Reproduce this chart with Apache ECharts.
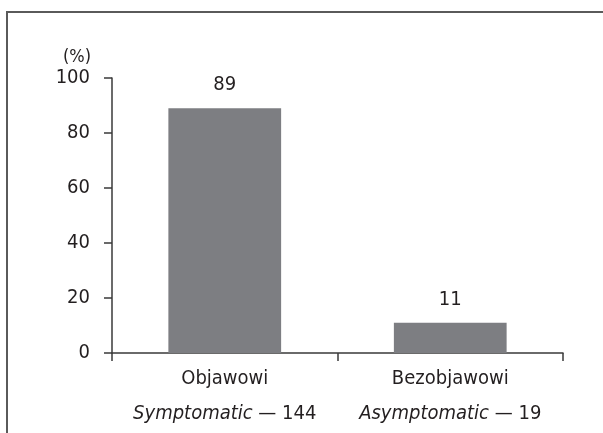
<!DOCTYPE html>
<html>
<head>
<meta charset="utf-8">
<script src="https://cdn.jsdelivr.net/npm/echarts@6/dist/echarts.min.js"></script>
<style>
html,body{margin:0;padding:0;background:#fff;}
#c{width:603px;height:433px;}
</style>
</head>
<body>
<div id="c"></div>
<script>
const categoriesPl = ['Objawowi', 'Bezobjawowi'];
const categoriesEn = ['Symptomatic', 'Asymptomatic'];
const counts = ['144', '19'];
const percentValues = [89, 11];
const yTicks = [0, 20, 40, 60, 80, 100];

const FONT = "'Liberation Sans Narrow', 'Arial Narrow', 'DejaVu Sans Condensed', sans-serif";
const TXT = '#231f20';
const AX = '#3a3a3a';
const FS = 20;

const chart = echarts.init(document.getElementById('c'), null, {renderer: 'canvas'});
chart.setOption({
  animation: false,
  backgroundColor: '#ffffff',
  grid: {left: 112, right: 40, top: 78, bottom: 80, containLabel: false},
  graphic: [{
    type: 'polyline',
    shape: {points: [[7, 433], [7, 12], [603, 12]]},
    style: {stroke: '#5a5a5a', lineWidth: 2, fill: null},
    silent: true
  }],
  xAxis: {
    type: 'category',
    data: categoriesPl.map((c, i) => i),
    axisLine: {lineStyle: {color: AX, width: 1.5}},
    axisTick: {show: true, length: 8, lineStyle: {color: AX, width: 1.5}},
    axisLabel: {
      margin: 8,
      interval: 0,
      formatter: (v, i) => '{n|' + categoriesPl[i] + '}\n{i|' + categoriesEn[i] + '}{n| — ' + counts[i] + '}',
      rich: {
        n: {fontFamily: FONT, fontSize: FS, lineHeight: 35, color: TXT},
        i: {fontFamily: FONT, fontSize: FS, lineHeight: 35, color: TXT, fontStyle: 'italic'}
      }
    }
  },
  yAxis: {
    type: 'value',
    min: yTicks[0],
    max: yTicks[yTicks.length - 1],
    interval: 20,
    name: '(%)',
    nameLocation: 'end',
    nameGap: 12,
    nameTextStyle: {fontFamily: FONT, fontSize: 18, color: TXT, align: 'center', padding: [0, 70, 0, 0]},
    axisLine: {show: true, lineStyle: {color: AX, width: 1.5}},
    axisTick: {show: true, length: 8, lineStyle: {color: AX, width: 1.5}},
    splitLine: {show: false},
    axisLabel: {margin: 22, fontFamily: FONT, fontSize: FS, color: TXT}
  },
  series: [{
    type: 'bar',
    data: percentValues,
    barWidth: '50%',
    itemStyle: {color: '#7d7e82'},
    label: {show: true, position: 'top', distance: 13, fontFamily: FONT, fontSize: FS, color: TXT}
  }]
});
</script>
</body>
</html>
